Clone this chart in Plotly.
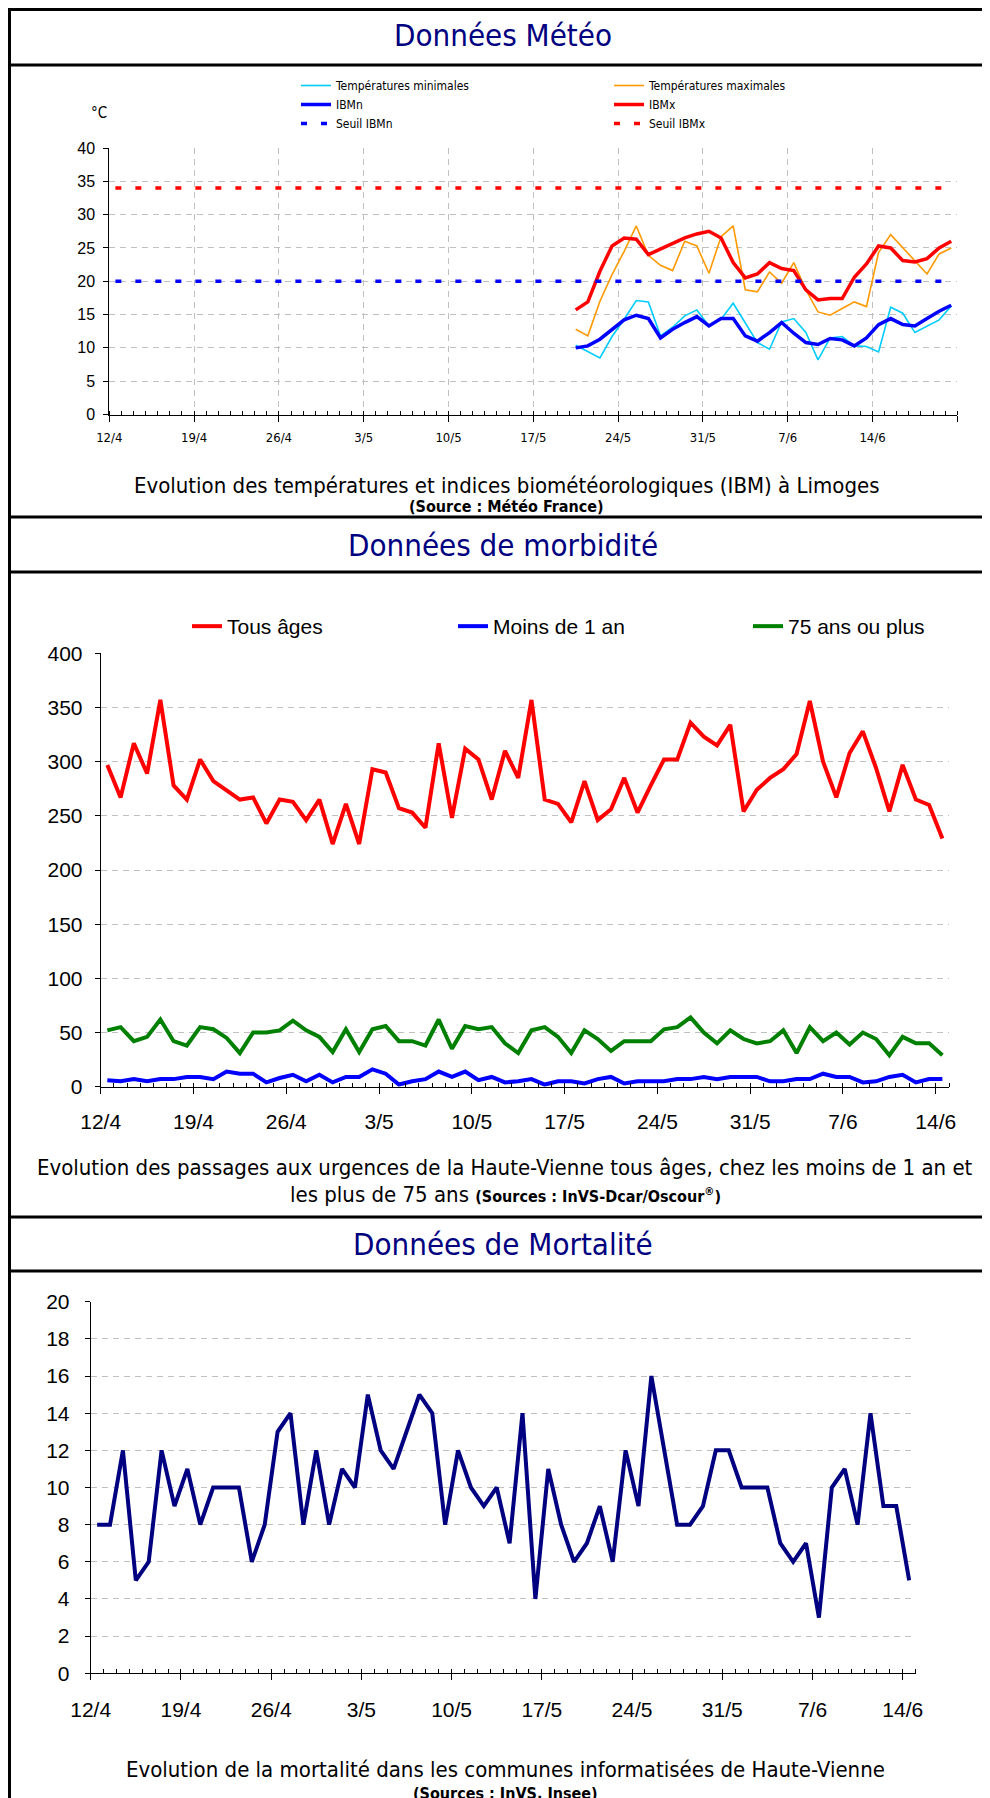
import plotly.graph_objects as go
import pandas as pd

# ---------------- data ----------------
tick_dates = ["2010-04-12", "2010-04-19", "2010-04-26", "2010-05-03", "2010-05-10",
              "2010-05-17", "2010-05-24", "2010-05-31", "2010-06-07", "2010-06-14"]
tick_labels = ["12/4", "19/4", "26/4", "3/5", "10/5", "17/5", "24/5", "31/5", "7/6", "14/6"]

meteo_start = "2010-05-20"
temp_min = [10.4, 9.4, 8.5, 11.7, 14.3, 17.1, 16.9, 11.8, 13.1, 14.8, 15.7, 13.3, 14.3, 16.7, 13.8, 10.8,
            9.8, 13.9, 14.4, 12.3, 8.2, 11.5, 11.7, 10.3, 10.2, 9.4, 16.1, 15.2, 12.3, 13.2, 14.2, 16.3]
temp_max = [12.8, 11.8, 17.0, 21.0, 24.5, 28.3, 23.9, 22.4, 21.6, 26.0, 25.3, 21.2, 26.7, 28.3, 18.7, 18.4,
            21.4, 19.7, 22.8, 18.7, 15.4, 14.9, 15.9, 16.9, 16.2, 24.3, 27.0, 25.0, 23.0, 21.1, 24.1, 25.0]
ibm_n = [10.0, 10.3, 11.3, 12.8, 14.2, 14.9, 14.4, 11.5, 12.8, 13.8, 14.7, 13.3, 14.4, 14.4, 11.8, 11.0,
         12.3, 13.8, 12.2, 10.8, 10.5, 11.4, 11.2, 10.3, 11.5, 13.5, 14.4, 13.5, 13.3, 14.4, 15.5, 16.4]
ibm_x = [15.7, 16.9, 21.5, 25.3, 26.5, 26.3, 24.0, 24.8, 25.6, 26.5, 27.1, 27.5, 26.5, 22.8, 20.5, 21.1,
         22.8, 21.9, 21.6, 18.7, 17.2, 17.4, 17.4, 20.6, 22.6, 25.3, 25.0, 23.1, 22.9, 23.4, 25.0, 26.0]
seuil_start = "2010-04-12"
seuil_days = 70
seuil_ibmn = 20
seuil_ibmx = 34

morb_start = "2010-04-12"
tous_ages = [297, 267, 317, 289, 357, 278, 265, 302, 282, 274, 265, 267, 243, 265, 263, 246, 265, 224, 261, 224,
             293, 290, 257, 253, 239, 317, 248, 312, 302, 265, 310, 285, 357, 265, 261, 244, 282, 246, 256, 285,
             253, 278, 302, 302, 336, 323, 315, 334, 254, 274, 285, 293, 307, 356, 300, 267, 308, 328, 294, 254,
             297, 265, 260, 229]
moins_1an = [6, 5, 7, 5, 7, 7, 9, 9, 7, 14, 12, 12, 4, 8, 11, 5, 11, 4, 9, 9,
             16, 12, 2, 5, 7, 14, 9, 14, 6, 9, 4, 5, 7, 2, 5, 5, 3, 7, 9, 3,
             5, 5, 5, 7, 7, 9, 7, 9, 9, 9, 5, 5, 7, 7, 12, 9, 9, 4, 5, 9,
             11, 4, 7, 7]
plus_75 = [52, 55, 42, 46, 62, 42, 38, 55, 53, 45, 31, 50, 50, 52, 61, 52, 46, 32, 53, 32,
           53, 56, 42, 42, 38, 62, 35, 56, 53, 55, 40, 31, 52, 55, 46, 31, 52, 44, 33, 42,
           42, 42, 53, 55, 64, 50, 40, 52, 44, 40, 42, 52, 31, 55, 42, 50, 39, 50, 44, 29,
           46, 40, 40, 29]

mort_start = "2010-04-12"
deces = [8, 8, 12, 5, 6, 12, 9, 11, 8, 10, 10, 10, 6, 8, 13, 14, 8, 12, 8, 11,
         10, 15, 12, 11, 13, 15, 14, 8, 12, 10, 9, 10, 7, 14, 4, 11, 8, 6, 7, 9,
         6, 12, 9, 16, 12, 8, 8, 9, 12, 12, 10, 10, 10, 7, 6, 7, 3, 10, 11, 8,
         14, 9, 9, 5]

# ---------------- layout helpers ----------------
W, H = 990, 1798
ML, MR = 80, 30
PW = W - ML - MR
OFF = 8  # page body margin: the figure is drawn 8 px right/down in the window


def px_x(p):
    return (p - OFF - ML) / PW


def px_y(p):
    return 1 - (p - OFF) / H


def days(start, n):
    return pd.date_range(start, periods=n, freq="D") + pd.Timedelta(hours=12)


NARROW = "Liberation Sans Narrow, Arial Narrow, DejaVu Sans Condensed, sans-serif"
ARIAL = "Liberation Sans, Arial, sans-serif"
NAVY = "#000080"
GRID = "#c0c0c0"

fig = go.Figure()

# ---- chart 1 : météo ----
x_met = days(meteo_start, len(temp_min))
x_seuil = days(seuil_start, seuil_days)
fig.add_trace(go.Scatter(x=x_met, y=temp_min, name="Températures minimales", mode="lines",
                         line=dict(color="#00CCFF", width=1.6), xaxis="x", yaxis="y", legend="legend"))
fig.add_trace(go.Scatter(x=x_met, y=temp_max, name="Températures maximales", mode="lines",
                         line=dict(color="#FF9900", width=1.6), xaxis="x", yaxis="y", legend="legend"))
fig.add_trace(go.Scatter(x=x_met, y=ibm_n, name="IBMn", mode="lines",
                         line=dict(color="#0000FF", width=3.5), xaxis="x", yaxis="y", legend="legend"))
fig.add_trace(go.Scatter(x=x_met, y=ibm_x, name="IBMx", mode="lines",
                         line=dict(color="#FF0000", width=3.5), xaxis="x", yaxis="y", legend="legend"))
fig.add_trace(go.Scatter(x=[x_seuil[0], x_seuil[-1]], y=[seuil_ibmn, seuil_ibmn], name="Seuil IBMn", mode="lines",
                         line=dict(color="#0000FF", width=3.5, dash="6px,14px"), xaxis="x", yaxis="y",
                         legend="legend"))
fig.add_trace(go.Scatter(x=[x_seuil[0], x_seuil[-1]], y=[seuil_ibmx, seuil_ibmx], name="Seuil IBMx", mode="lines",
                         line=dict(color="#FF0000", width=3.5, dash="6px,14px"), xaxis="x", yaxis="y",
                         legend="legend"))

# ---- chart 2 : morbidité ----
x_morb = days(morb_start, len(tous_ages))
fig.add_trace(go.Scatter(x=x_morb, y=tous_ages, name="Tous âges", mode="lines",
                         line=dict(color="#FF0000", width=4), xaxis="x2", yaxis="y2",
                         legend="legend2", legendwidth=221))
fig.add_trace(go.Scatter(x=x_morb, y=moins_1an, name="Moins de 1 an", mode="lines",
                         line=dict(color="#0000FF", width=4), xaxis="x2", yaxis="y2",
                         legend="legend2", legendwidth=250))
fig.add_trace(go.Scatter(x=x_morb, y=plus_75, name="75 ans ou plus", mode="lines",
                         line=dict(color="#008000", width=4), xaxis="x2", yaxis="y2",
                         legend="legend2", legendwidth=150))

# ---- chart 3 : mortalité ----
x_mort = days(mort_start, len(deces))
fig.add_trace(go.Scatter(x=x_mort, y=deces, name="Décès", mode="lines", showlegend=False,
                         line=dict(color=NAVY, width=4), xaxis="x3", yaxis="y3"))


def xaxis_cfg(domain, rng, tv, tt, font, standoff, grid, anchor):
    return dict(type="date", domain=domain, range=rng, tickvals=tv, ticktext=tt, anchor=anchor,
                ticks="outside", ticklen=6, tickcolor="black", tickwidth=1, automargin=False,
                showline=True, linecolor="black", linewidth=1,
                showgrid=grid, gridcolor=GRID, griddash="6px,5px", gridwidth=1,
                minor=dict(dtick=86400000, tick0="2010-04-12", ticks="inside", ticklen=4,
                           tickcolor="black", tickwidth=1, showgrid=False),
                tickfont=font, ticklabelstandoff=standoff, zeroline=False, fixedrange=True)


def yaxis_cfg(domain, rng, dtick, font, standoff, anchor):
    return dict(domain=domain, range=rng, dtick=dtick, tick0=0, ticks="outside", ticklen=5,
                tickcolor="black", showline=True, linecolor="black", linewidth=1, automargin=False,
                showgrid=True, gridcolor=GRID, griddash="6px,5px", gridwidth=1,
                zeroline=False, tickfont=font, ticklabelstandoff=standoff, anchor=anchor)


f1x = dict(family=NARROW, size=13, color="black")
f1y = dict(family=ARIAL, size=16, color="black")
f23 = dict(family=ARIAL, size=21, color="black")

fig.update_layout(
    width=W, height=H, margin=dict(l=ML, r=MR, t=0, b=0, autoexpand=False),
    paper_bgcolor="white", plot_bgcolor="white",
    xaxis=xaxis_cfg([px_x(109.3), px_x(957.3)], ["2010-04-12", "2010-06-21"],
                    tick_dates + ["2010-06-21"], tick_labels + [""], f1x, 5, True, "y"),
    yaxis=yaxis_cfg([px_y(414.5), px_y(148)], [0, 40], 5, f1y, 5, "x"),
    xaxis2=xaxis_cfg([px_x(100.7), px_x(949)], ["2010-04-12", "2010-06-15"],
                     tick_dates, tick_labels, f23, 10, False, "y2"),
    yaxis2=yaxis_cfg([px_y(1086.7), px_y(653.3)], [0, 400], 50, f23, 8, "x2"),
    xaxis3=xaxis_cfg([px_x(90.7), px_x(915.6)], ["2010-04-12", "2010-06-15"],
                     tick_dates, tick_labels, f23, 11, False, "y3"),
    yaxis3=yaxis_cfg([px_y(1673.3), px_y(1301.7)], [0, 20], 2, f23, 11, "x3"),
    showlegend=True,
    legend=dict(orientation="h", x=px_x(296), y=px_y(71), xanchor="left", yanchor="top",
                entrywidth=268, entrywidthmode="pixels", bgcolor="rgba(0,0,0,0)",
                font=dict(family=NARROW, size=12, color="black"), itemclick=False),
    legend2=dict(orientation="h", x=px_x(187), y=px_y(606), xanchor="left", yanchor="top",
                 bgcolor="rgba(0,0,0,0)", font=dict(family=ARIAL, size=21, color="black"),
                 itemclick=False),
)

# ---- frame & section separators ----
BX0, BX1 = px_x(9.5), px_x(989)
fig.add_shape(type="rect", xref="paper", yref="paper", x0=BX0, x1=BX1, y0=px_y(1810), y1=px_y(9.5),
              line=dict(color="black", width=3), fillcolor="rgba(0,0,0,0)", layer="above")
for yy in [65, 517, 572, 1217, 1271]:
    fig.add_shape(type="line", xref="paper", yref="paper", x0=BX0, x1=BX1, y0=px_y(yy), y1=px_y(yy),
                  line=dict(color="black", width=3), layer="above")


def note(text, xpx, ypx, size, family=NARROW, color="black"):
    fig.add_annotation(text=text, xref="paper", yref="paper", x=px_x(xpx), y=px_y(ypx),
                       xanchor="center", yanchor="middle", showarrow=False,
                       font=dict(family=family, size=size, color=color))


note("Données Météo", 503, 35, 31, color=NAVY)
note("Données de morbidité", 503, 545, 31, color=NAVY)
note("Données de Mortalité", 503, 1244, 31, color=NAVY)

note("°C", 99, 113, 15)
note("Evolution des températures et indices biométéorologiques (IBM) à Limoges", 506, 485, 22)
note("<b>(Source : Météo France)</b>", 506, 506, 16)

note("Evolution des passages aux urgences de la Haute-Vienne tous âges, chez les moins de 1 an et", 505, 1167, 22)
note("les plus de 75 ans <b><span style='font-size:16px'>(Sources : InVS-Dcar/Oscour<sup>®</sup>)</span></b>",
     505, 1194, 22)

note("Evolution de la mortalité dans les communes informatisées de Haute-Vienne", 505, 1769, 22)
note("<b>(Sources : InVS, Insee)</b>", 505, 1793, 16)

fig.write_html("out.html")
